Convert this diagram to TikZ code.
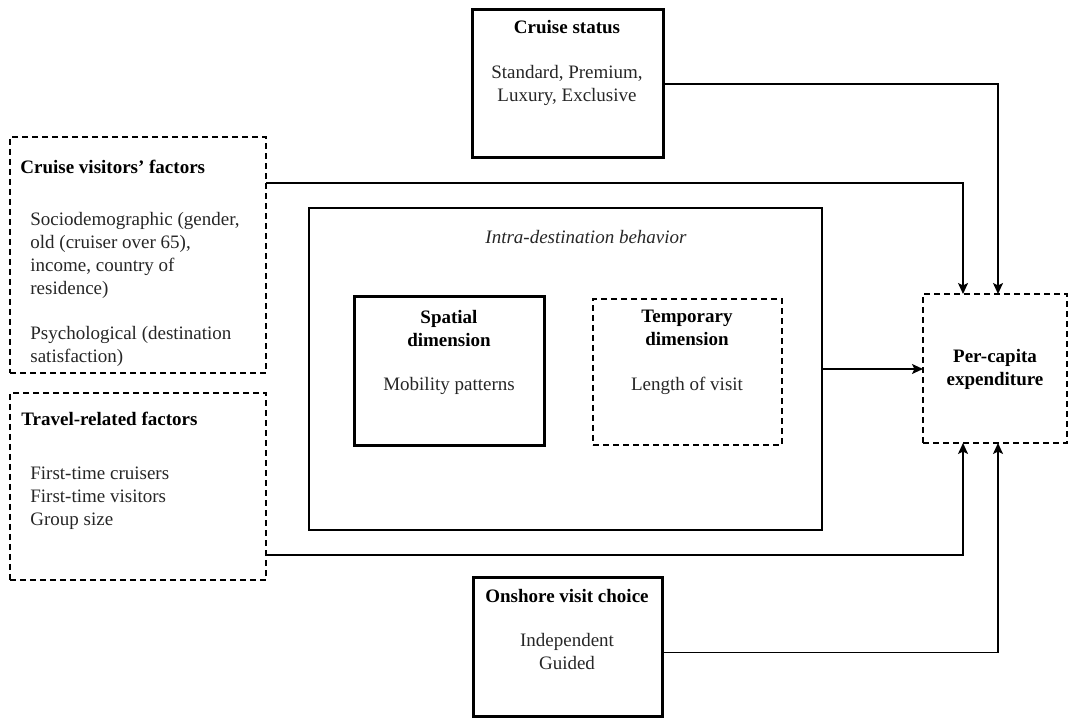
\documentclass[tikz,border=0pt]{standalone}
\usepackage{fontspec}
\setmainfont{Liberation Serif}
\usetikzlibrary{arrows.meta}

\begin{document}
\begin{tikzpicture}[x=0.5pt,y=-0.5pt,
  font=\fontsize{9.5}{11.5}\selectfont,
  thickbox/.style={draw,line width=1.5pt,inner sep=0pt,outer sep=0pt},
  thinbox/.style={draw,line width=0.9pt,inner sep=0pt,outer sep=0pt},
  dashbox/.style={draw,line width=0.75pt,dash pattern=on 3pt off 2pt,inner sep=0pt,outer sep=0pt},
  head/.style={font=\fontsize{9.5}{11.5}\selectfont\bfseries,inner sep=0pt},
  body/.style={text=black!85,inner sep=0pt},
  arr/.style={line width=0.8pt,-{Stealth[length=5.5pt,width=5pt,inset=1.2pt]}}]
\useasboundingbox (0,0) rectangle (1070,726);
% boxes
\node[thickbox,minimum width=95.5pt,minimum height=74pt] (status) at (567.5,84) {};
\node[dashbox,minimum width=128pt,minimum height=118pt] (visitors) at (138,255) {};
\node[dashbox,minimum width=128pt,minimum height=93.5pt] (travel) at (138,486.5) {};
\node[thinbox,minimum width=256.5pt,minimum height=161pt] (intra) at (565.5,369) {};
\node[thickbox,minimum width=95pt,minimum height=74.5pt] (spatial) at (449,371.5) {};
\node[dashbox,minimum width=94.5pt,minimum height=73pt] (temporal) at (687.5,372) {};
\node[dashbox,minimum width=72pt,minimum height=74.5pt] (percapita) at (995,368.5) {};
\node[thickbox,minimum width=94.5pt,minimum height=69.5pt] (onshore) at (567.5,646.5) {};
% texts
\node[head,anchor=base] (statushead) at (567,34) {Cruise status};
\node[body,anchor=north,align=center] (statusbody) at (567,65) {Standard, Premium,\\Luxury, Exclusive};
\node[head,anchor=base west] (visitorshead) at (20,174) {Cruise visitors’ factors};
\node[body,anchor=north west,align=left] (sociobody) at (30,212) {Sociodemographic (gender,\\old (cruiser over 65),\\income, country of\\residence)};
\node[body,anchor=north west,align=left] (psychobody) at (30,326) {Psychological (destination\\satisfaction)};
\node[head,anchor=base west] (travelhead) at (21,426) {Travel-related factors};
\node[body,anchor=north west,align=left] (travelbody) at (30,467) {First-time cruisers\\First-time visitors\\Group size};
\node[body,anchor=base,font=\fontsize{9.5}{11.5}\selectfont\itshape] (intrahead) at (586,244) {Intra-destination behavior};
\node[head,anchor=north,align=center] (spatialhead) at (449,310) {Spatial\\dimension};
\node[body,anchor=base] (spatialbody) at (449,391) {Mobility patterns};
\node[head,anchor=north,align=center] (temporalhead) at (687,310) {Temporary\\dimension};
\node[body,anchor=base] (temporalbody) at (687,391) {Length of visit};
\node[head,anchor=north,align=center] (percapitahead) at (995,349) {Per-capita\\expenditure};
\node[head,anchor=base] (onshorehead) at (567,602) {Onshore visit choice};
\node[body,anchor=north,align=center] (onshorebody) at (567,633) {Independent\\Guided};
% arrows
\draw[arr] (status.east) -| ([xshift=1.5pt]percapita.north);
\draw[arr] ([yshift=-23pt]visitors.north east) -| ([xshift=-16pt]percapita.north);
\draw[arr] (intra.east) -- (intra.east -| percapita.west);
\draw[arr] ([yshift=12.5pt]travel.south east) -| ([xshift=-16pt]percapita.south);
\draw[arr] ([yshift=-3pt]onshore.east) -| ([xshift=1.5pt]percapita.south);
\end{tikzpicture}
\end{document}
